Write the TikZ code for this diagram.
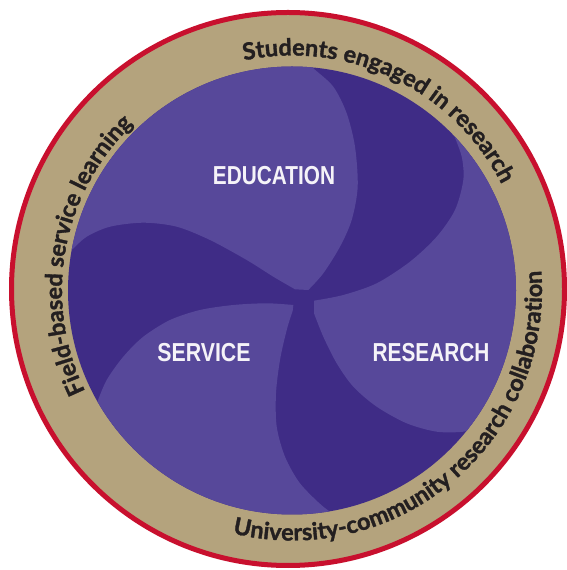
\documentclass[tikz,border=0pt]{standalone}
\usepackage{fontspec}
\usepackage{graphicx}
\usetikzlibrary{decorations.text,calc}
\newfontfamily\ringfont{Lato}[BoldFeatures={FakeBold=1.4}]
\newfontfamily\labelfont{Liberation Sans}
\definecolor{darkp}{HTML}{3F2C86}
\definecolor{lightp}{HTML}{57489A}
\definecolor{tanband}{HTML}{B4A37D}
\definecolor{ringred}{HTML}{C8102E}
\definecolor{ringtext}{HTML}{231F20}
\definecolor{labelwhite}{HTML}{F5F3F8}
\newcommand\ringtype{\ringfont\bfseries\fontsize{23.5}{28}\selectfont}
\newcommand\labeltype{\labelfont\bfseries\fontsize{26}{30}\selectfont}
\tikzset{
  petal/.style={fill=lightp},
  pillar/.style={inner sep=0pt, text=labelwhite},
  ringlabel/.style={decorate, decoration={text along path, text align=center, text color=ringtext, text={|\ringtype|#1}}}
}
\begin{document}
\begin{tikzpicture}[x=1pt,y=1pt]
\useasboundingbox (0,0) rectangle (567,570);
\fill[white] (0,0) rectangle (567,570);
\coordinate (P) at (292,279.5);
\coordinate (O) at (288,281);
% outer band and rim
\fill[tanband] (O) circle[radius=276.5];
\draw[ringred, line width=5pt] (O) circle[radius=276.5];
% purple disc
\fill[darkp] (P) circle[radius=224];
\begin{scope}
  \clip (P) circle[radius=224];
  % upper petal
  \fill[petal] plot[smooth] coordinates {(295,518) (313.3,501.7) (333.3,483.3) (346.7,456.7) (355,423.3) (357.7,383.3) (351.7,350) (340,323.3) (323.3,296.7) (308.3,280)}
    -- plot[smooth] coordinates {(295,280.7) (273.3,293.3) (246.7,310) (210,330) (176.7,343.3) (143.3,347.3) (110,343.3) (86.7,333.3) (71.7,320) (56,306)}
    -- (20,306) -- (20,540) -- (295,540) -- cycle;
  % lower left petal
  \fill[petal] plot[smooth] coordinates {(89,149) (96.7,166.7) (106.7,190) (123.3,213.3) (143.3,233.3) (170,250) (200,260) (233.3,265) (266.7,266.7) (293.3,265)}
    -- plot[smooth] coordinates {(292.7,259.3) (286.7,240) (280,210) (276,176.7) (276.7,143.3) (285,113.3) (300,86.7) (323.3,63.3) (343.3,50) (360,38)}
    -- (360,20) -- (40,20) -- (40,149) -- cycle;
  % lower right petal
  \fill[petal] plot[smooth] coordinates {(447,454) (453.3,436.7) (461.7,413.3) (463.3,390) (455,360) (436.7,333.3) (410,308.3) (376.7,286.7) (343.3,275) (314,269.3)}
    -- plot[smooth] coordinates {(314,256.7) (323.3,233.3) (336.7,206.7) (353.3,183.3) (376.7,163.3) (406.7,146.7) (436.7,138.3) (463.3,138.3) (480,143.3) (500,152)}
    -- (560,152) -- (560,454) -- cycle;
\end{scope}
% petal labels
\node[pillar] (edu) at (274,394) {\scalebox{0.8}[1]{\labeltype EDUCATION}};
\node[pillar] (srv) at (204,217) {\scalebox{0.82}[1]{\labeltype SERVICE}};
\node[pillar] (res) at (431,217) {\scalebox{0.8}[1]{\labeltype RESEARCH}};
% lettering around the band
\path[ringlabel={Students engaged in research}] ($(P)+(144.3:235)$) arc[start angle=144.3, end angle=-15.7, radius=235];
\path[ringlabel={Field-based service learning}] ($(P)+(239.8:230)$) arc[start angle=239.8, end angle=99.8, radius=230];
\path[ringlabel={University-community research collaboration}] ($(P)+(-139.6:250)$) arc[start angle=-139.6, end angle=40.4, radius=250];
\end{tikzpicture}
\end{document}
